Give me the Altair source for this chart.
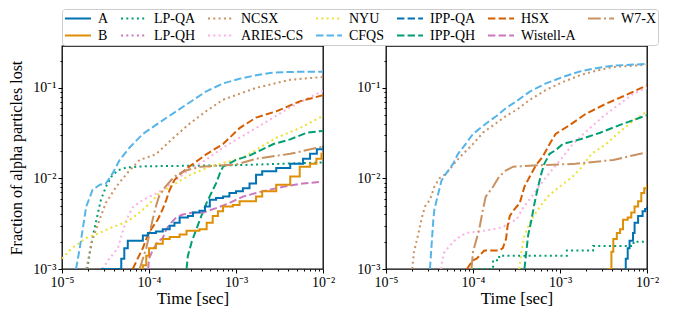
import altair as alt
import pandas as pd

# ---------------- legend order (matplotlib order, filled column by column) ----------------
ORDER = ["A", "B", "LP-QA", "LP-QH", "NCSX", "ARIES-CS", "NYU", "CFQS",
         "IPP-QA", "IPP-QH", "HSX", "Wistell-A", "W7-X"]
COLORS = ["#0173B2", "#DE8F05", "#029E73", "#CC78BC", "#CA9161", "#FBAFE4", "#ECE133", "#56B4E9",
          "#0173B2", "#029E73", "#D55E00", "#CC78BC", "#CA9161"]
SOLID = [1, 0]
DOT = [2, 3.3]
DASH = [7.4, 3.2]
DASHDOT = [12.8, 3.2, 2, 3.2]
DASHES = [SOLID, SOLID, DOT, DOT, DOT, DOT, DOT, DASH,
          DASH, DASH, DASH, DASH, DASHDOT]

# ---------------- left panel ----------------
L_CFQS_t = [1.45e-5, 1.6e-5, 1.73e-5, 1.9e-5, 2.25e-5, 2.7e-5, 3.2e-5, 3.8e-5, 4.6e-5, 6.0e-5, 8.5e-5,
            1.3e-4, 2.05e-4, 3.2e-4, 4.5e-4, 7.1e-4, 1.1e-3, 1.7e-3, 2.6e-3, 4.2e-3, 1e-2]
L_CFQS_f = [1.0e-3, 1.7e-3, 2.75e-3, 4.9e-3, 7.5e-3, 8.5e-3, 8.8e-3, 1.13e-2, 1.6e-2, 2.2e-2, 3.1e-2,
            4.1e-2, 5.5e-2, 7.3e-2, 9.1e-2, 0.112, 0.126, 0.138, 0.147, 0.15, 0.151]
L_NCSX_t = [1.9e-5, 2.2e-5, 2.7e-5, 3.2e-5, 4.2e-5, 5.5e-5, 7.8e-5, 1.2e-4, 1.9e-4, 2.9e-4, 4.5e-4,
            7.1e-4, 1.7e-3, 4.2e-3, 1e-2]
L_NCSX_f = [1.0e-3, 2.0e-3, 3.5e-3, 5.4e-3, 8.1e-3, 1.12e-2, 1.6e-2, 1.85e-2, 2.8e-2, 4.0e-2, 5.5e-2,
            7.4e-2, 0.10, 0.123, 0.132]
L_LPQA_t = [1.95e-5, 2.15e-5, 2.35e-5, 2.6e-5, 2.8e-5, 3.2e-5, 3.7e-5, 4.4e-5, 5.5e-5, 8.4e-5, 1e-3, 1e-2]
L_LPQA_f = [1.0e-3, 1.8e-3, 2.75e-3, 4.2e-3, 5.8e-3, 8.1e-3, 1.05e-2, 1.23e-2, 1.32e-2, 1.36e-2, 1.4e-2, 1.5e-2]
L_NYU_t = [1.0e-5, 1.3e-5, 1.9e-5, 2.7e-5, 3.8e-5, 5.5e-5, 7.8e-5, 1.0e-4, 1.3e-4, 1.9e-4, 3.0e-4,
           5e-4, 1.2e-3, 2.9e-3, 5.4e-3, 1e-2]
L_NYU_f = [1.3e-3, 1.7e-3, 2.2e-3, 2.5e-3, 2.9e-3, 3.3e-3, 4.2e-3, 5.2e-3, 6.8e-3, 8.5e-3, 1.1e-2,
           1.35e-2, 1.7e-2, 2.8e-2, 3.6e-2, 4.9e-2]
L_ARIES_t = [2.9e-5, 3.5e-5, 4.4e-5, 4.8e-5, 5.5e-5, 6.5e-5, 8.5e-5, 1.2e-4, 1.6e-4, 2.1e-4, 2.9e-4,
             4.5e-4, 7.1e-4, 1.7e-3, 4.2e-3, 1e-2]
L_ARIES_f = [1.0e-3, 1.3e-3, 1.7e-3, 2.3e-3, 3.5e-3, 4.8e-3, 5.8e-3, 6.8e-3, 8.0e-3, 9.8e-3, 1.25e-2,
             1.6e-2, 2.2e-2, 3.6e-2, 6.1e-2, 9.3e-2]
L_HSX_t = [6.5e-5, 7.4e-5, 8.5e-5, 9.3e-5, 1.06e-4, 1.26e-4, 1.44e-4, 1.58e-4, 1.73e-4, 1.96e-4, 2.3e-4,
           2.9e-4, 4.6e-4, 7.1e-4, 1.1e-3, 1.7e-3, 2.9e-3, 5.4e-3, 1e-2]
L_HSX_f = [1.0e-3, 1.3e-3, 1.7e-3, 2.15e-3, 2.75e-3, 3.5e-3, 4.6e-3, 5.8e-3, 7.5e-3, 9.6e-3, 1.13e-2,
           1.35e-2, 1.86e-2, 2.4e-2, 3.6e-2, 4.7e-2, 5.5e-2, 7.1e-2, 8.3e-2]
L_IPPQH_t = [2.7e-4, 2.8e-4, 3.1e-4, 3.5e-4, 4.0e-4, 4.6e-4, 5.2e-4, 5.9e-4, 6.5e-4, 7.1e-4, 1.0e-3,
             1.45e-3, 2.7e-3, 4.2e-3, 6.5e-3, 1e-2]
L_IPPQH_f = [1.0e-3, 1.4e-3, 2.0e-3, 2.75e-3, 3.85e-3, 5.4e-3, 6.9e-3, 8.8e-3, 1.13e-2, 1.35e-2, 1.6e-2,
             1.8e-2, 2.4e-2, 2.7e-2, 3.2e-2, 3.35e-2]
L_W7X_t = [7.8e-5, 8.5e-5, 9.3e-5, 1.0e-4, 1.1e-4, 1.2e-4, 1.3e-4, 1.5e-4, 1.8e-4, 2.1e-4, 2.7e-4,
           4e-4, 1.0e-3, 1.7e-3, 4.2e-3, 1e-2]
L_W7X_f = [1.0e-3, 1.3e-3, 1.7e-3, 2.3e-3, 3.5e-3, 4.9e-3, 6.3e-3, 7.8e-3, 9.6e-3, 1.1e-2, 1.23e-2,
           1.35e-2, 1.42e-2, 1.65e-2, 1.87e-2, 2.25e-2]
L_A_t = [2.8e-5, 4.6e-5, 4.8e-5, 5.2e-5, 5.7e-5, 8.5e-5, 9.7e-5, 1.2e-4, 1.44e-4, 1.73e-4, 1.96e-4, 2.25e-4,
         2.8e-4, 3.2e-4, 3.8e-4, 4.4e-4, 5.0e-4, 5.9e-4, 7.1e-4, 8.4e-4, 1.0e-3, 1.2e-3, 1.43e-3,
         1.7e-3, 2.0e-3, 2.9e-3, 4.2e-3, 5.9e-3, 7.1e-3, 8.5e-3, 1e-2]
L_A_f = [1.0e-3, 1.0e-3, 1.3e-3, 1.7e-3, 2.05e-3, 2.35e-3, 2.5e-3, 2.6e-3, 2.75e-3, 3.0e-3, 3.25e-3, 3.7e-3,
         3.85e-3, 4.2e-3, 4.4e-3, 4.9e-3, 5.8e-3, 6.1e-3, 6.3e-3, 6.9e-3, 7.2e-3, 7.8e-3, 8.8e-3,
         1.1e-2, 1.2e-2, 1.3e-2, 1.45e-2, 1.65e-2, 1.87e-2, 2.1e-2, 2.3e-2]
L_B_t = [8.0e-5, 8.5e-5, 9.3e-5, 1.0e-4, 1.2e-4, 1.44e-4, 1.73e-4, 2.25e-4, 2.7e-4, 3.8e-4, 4.6e-4, 5.4e-4,
         6.2e-4, 7.1e-4, 9.2e-4, 1.1e-3, 1.7e-3, 2.0e-3, 2.9e-3, 4.2e-3, 5.4e-3, 7.1e-3, 8.4e-3,
         9.6e-3, 1e-2]
L_B_f = [1.0e-3, 1.1e-3, 1.4e-3, 1.7e-3, 1.9e-3, 2.15e-3, 2.25e-3, 2.4e-3, 2.65e-3, 2.75e-3, 3.25e-3, 3.85e-3,
         4.35e-3, 4.9e-3, 5.1e-3, 5.6e-3, 6.3e-3, 7.2e-3, 8.5e-3, 1.05e-2, 1.35e-2, 1.45e-2, 1.65e-2,
         1.87e-2, 1.95e-2]
L_WIST_t = [9.8e-5, 1.0e-4, 1.1e-4, 1.26e-4, 1.44e-4, 1.58e-4, 1.8e-4, 2.05e-4, 2.45e-4, 3.2e-4, 4.2e-4,
            5.9e-4, 8.4e-4, 1.2e-3, 2.0e-3, 3.5e-3, 5.9e-3, 1e-2]
L_WIST_f = [1.0e-3, 1.3e-3, 1.6e-3, 2.0e-3, 2.2e-3, 2.75e-3, 3.25e-3, 3.7e-3, 4.0e-3, 4.2e-3, 4.2e-3,
            4.7e-3, 5.35e-3, 6.3e-3, 7.2e-3, 8.1e-3, 8.8e-3, 9.2e-3]

# ---------------- right panel ----------------
R_CFQS_t = [3.2e-5, 3.3e-5, 3.4e-5, 3.5e-5, 3.6e-5, 4.0e-5, 4.35e-5, 4.9e-5, 5.9e-5, 6.7e-5, 7.7e-5,
            1.0e-4, 1.3e-4, 1.86e-4, 2.4e-4, 3.15e-4, 4.5e-4, 6.9e-4, 1.08e-3, 1.7e-3, 2.6e-3, 4.1e-3, 1e-2]
R_CFQS_f = [1.0e-3, 1.55e-3, 2.35e-3, 3.5e-3, 4.55e-3, 6.9e-3, 9.5e-3, 1.13e-2, 1.45e-2, 1.86e-2, 2.2e-2,
            3.1e-2, 3.8e-2, 4.9e-2, 6.0e-2, 7.1e-2, 9.1e-2, 0.112, 0.132, 0.152, 0.165, 0.176, 0.184]
R_NCSX_t = [2.0e-5, 2.1e-5, 2.33e-5, 2.55e-5, 2.8e-5, 3.2e-5, 3.6e-5, 4.1e-5, 4.9e-5, 5.9e-5, 7.1e-5,
            1.0e-4, 1.3e-4, 1.86e-4, 2.4e-4, 3.15e-4, 4.5e-4, 6.9e-4, 1.08e-3, 1.7e-3, 2.6e-3, 4.1e-3, 1e-2]
R_NCSX_f = [1.0e-3, 1.55e-3, 2.35e-3, 3.5e-3, 4.9e-3, 5.8e-3, 8.1e-3, 1.0e-2, 1.13e-2, 1.4e-2, 1.73e-2,
            2.4e-2, 3.2e-2, 4.1e-2, 4.9e-2, 5.7e-2, 7.4e-2, 9.5e-2, 0.116, 0.138, 0.155, 0.17, 0.18]
R_HSX_t = [8.5e-5, 1.0e-4, 1.1e-4, 1.35e-4, 2.0e-4, 2.2e-4, 2.4e-4, 2.5e-4, 2.65e-4, 2.9e-4, 3.45e-4,
           3.9e-4, 4.5e-4, 5.3e-4, 6.3e-4, 7.6e-4, 8.9e-4, 1.3e-3, 2.0e-3, 3.4e-3, 5.7e-3, 1e-2]
R_HSX_f = [1.0e-3, 1.25e-3, 1.3e-3, 1.6e-3, 1.6e-3, 1.7e-3, 2.15e-3, 3.0e-3, 3.85e-3, 4.4e-3, 5.35e-3,
           8.1e-3, 1.05e-2, 1.4e-2, 1.73e-2, 2.4e-2, 3.1e-2, 3.9e-2, 5.2e-2, 6.7e-2, 8.3e-2, 0.107]
R_IPPQH_t = [3.9e-4, 4.1e-4, 4.3e-4, 4.7e-4, 5.1e-4, 5.6e-4, 6.1e-4, 6.6e-4, 7.6e-4, 8.9e-4, 1.08e-3,
             1.7e-3, 2.9e-3, 4.9e-3, 1e-2]
R_IPPQH_f = [1.0e-3, 1.55e-3, 2.35e-3, 3.5e-3, 5.35e-3, 8.1e-3, 1.13e-2, 1.45e-2, 1.87e-2, 2.05e-2, 2.4e-2,
             2.7e-2, 3.2e-2, 3.9e-2, 5.0e-2]
R_ARIES_t = [4.3e-5, 4.4e-5, 4.7e-5, 5.4e-5, 6.4e-5, 8.4e-5, 1.2e-4, 1.7e-4, 2.2e-4, 2.65e-4, 3.15e-4,
             3.75e-4, 4.9e-4, 6.3e-4, 8.3e-4, 1.08e-3, 1.4e-3, 2.0e-3, 3.1e-3, 4.9e-3, 6.9e-3, 1e-2]
R_ARIES_f = [1.0e-3, 1.2e-3, 1.55e-3, 1.8e-3, 2.15e-3, 2.5e-3, 2.6e-3, 2.75e-3, 2.9e-3, 3.25e-3, 3.5e-3,
             4.7e-3, 6.6e-3, 9.2e-3, 1.28e-2, 1.73e-2, 2.4e-2, 3.3e-2, 4.8e-2, 6.7e-2, 8.6e-2, 0.10]
R_NYU_t = [3.4e-4, 3.6e-4, 3.9e-4, 4.5e-4, 5.3e-4, 6.3e-4, 7.6e-4, 9.9e-4, 1.4e-3, 1.8e-3, 2.3e-3,
           3.4e-3, 4.9e-3, 6.9e-3, 1e-2]
R_NYU_f = [1.0e-3, 1.55e-3, 2.35e-3, 3.25e-3, 4.2e-3, 5.35e-3, 6.6e-3, 8.1e-3, 1.05e-2, 1.35e-2, 1.87e-2,
           2.4e-2, 3.3e-2, 4.3e-2, 5.5e-2]
R_W7X_t = [9.6e-5, 1.0e-4, 1.1e-4, 1.2e-4, 1.3e-4, 1.4e-4, 1.7e-4, 2.0e-4, 2.4e-4, 2.9e-4, 6e-4,
           1.5e-3, 4.1e-3, 1e-2]
R_W7X_f = [1.0e-3, 1.55e-3, 2.15e-3, 3.0e-3, 4.5e-3, 6.3e-3, 8.1e-3, 1.05e-2, 1.23e-2, 1.35e-2, 1.4e-2,
           1.45e-2, 1.6e-2, 1.95e-2]
R_LPQA_t = [1.0e-4, 1.7e-4, 2.0e-4, 1.2e-3, 2.4e-3, 7e-3, 1e-2]
R_LPQA_f = [1.0e-3, 1.25e-3, 1.4e-3, 1.6e-3, 1.8e-3, 2.0e-3, 2.0e-3]
R_A_t = [5.5e-3, 5.7e-3, 6.0e-3, 6.3e-3, 6.9e-3, 7.2e-3, 7.9e-3, 8.9e-3, 9.5e-3, 1e-2]
R_A_f = [1.0e-3, 1.3e-3, 1.7e-3, 2.05e-3, 2.5e-3, 3.25e-3, 3.85e-3, 4.35e-3, 4.6e-3, 4.9e-3]
R_B_t = [3.5e-3, 3.9e-3, 4.1e-3, 4.5e-3, 4.9e-3, 5.3e-3, 6.0e-3, 6.6e-3, 7.2e-3, 7.9e-3, 8.6e-3, 9.3e-3, 1e-2]
R_B_f = [1.0e-3, 1.55e-3, 2.15e-3, 2.5e-3, 2.75e-3, 3.5e-3, 3.7e-3, 4.2e-3, 4.9e-3, 5.6e-3, 6.9e-3, 7.8e-3, 8.8e-3]

SERIES = [
    ("left", "A", L_A_t, L_A_f, True), ("left", "B", L_B_t, L_B_f, True),
    ("left", "LP-QA", L_LPQA_t, L_LPQA_f, False), ("left", "NCSX", L_NCSX_t, L_NCSX_f, False),
    ("left", "ARIES-CS", L_ARIES_t, L_ARIES_f, False), ("left", "NYU", L_NYU_t, L_NYU_f, False),
    ("left", "CFQS", L_CFQS_t, L_CFQS_f, False), ("left", "IPP-QH", L_IPPQH_t, L_IPPQH_f, False),
    ("left", "HSX", L_HSX_t, L_HSX_f, False), ("left", "Wistell-A", L_WIST_t, L_WIST_f, False),
    ("left", "W7-X", L_W7X_t, L_W7X_f, False),
    ("right", "A", R_A_t, R_A_f, True), ("right", "B", R_B_t, R_B_f, True),
    ("right", "LP-QA", R_LPQA_t, R_LPQA_f, True), ("right", "NCSX", R_NCSX_t, R_NCSX_f, False),
    ("right", "ARIES-CS", R_ARIES_t, R_ARIES_f, False), ("right", "NYU", R_NYU_t, R_NYU_f, False),
    ("right", "CFQS", R_CFQS_t, R_CFQS_f, False), ("right", "IPP-QH", R_IPPQH_t, R_IPPQH_f, False),
    ("right", "HSX", R_HSX_t, R_HSX_f, False), ("right", "W7-X", R_W7X_t, R_W7X_f, False),
]

rows = []
for panel, name, ts, fs, step in SERIES:
    for t, f in zip(ts, fs):
        rows.append({"panel": panel, "name": name, "t": t, "f": f, "step": step})
df = pd.DataFrame(rows)

FONT = "Liberation Serif"
MAJOR = "abs(log(datum.value)/LN10 - round(log(datum.value)/LN10)) < 0.01"
LABEL = ("(" + MAJOR + ") ? '10\u207b' + ['\u2070','\u00b9','\u00b2','\u00b3','\u2074','\u2075']"
         "[-round(log(datum.value)/LN10)] : ''")
X_VALUES = [k * 10.0 ** d for d in (-5, -4, -3) for k in range(1, 10)] + [1e-2]
Y_VALUES = [k * 10.0 ** d for d in (-3, -2) for k in range(1, 10)] + [0.1, 0.2]
TICK = {"condition": {"test": MAJOR, "value": 4}, "value": 2}

legend = alt.Legend(
    title=None, orient="none", legendX=0, legendY=-37, columns=7,
    symbolType="stroke", symbolSize=676, symbolStrokeWidth=2, clipHeight=15,
    labelFont=FONT, labelFontSize=14, labelColor="black", labelOffset=6,
    columnPadding=11, rowPadding=2, padding=2,
    strokeColor="#cccccc", fillColor="white", cornerRadius=3, labelLimit=0,
)


def panel(pname, ytitle):
    base = alt.Chart(df[df.panel == pname])
    x = alt.X("t:Q", scale=alt.Scale(type="log", domain=[1e-5, 1e-2], nice=False),
              axis=alt.Axis(title="Time [sec]", values=X_VALUES, labelExpr=LABEL, tickSize=TICK))
    if ytitle:
        yaxis = alt.Axis(title=ytitle, values=Y_VALUES, labelExpr=LABEL, tickSize=TICK)
    else:
        yaxis = alt.Axis(title=None, values=Y_VALUES, labelExpr=LABEL, tickSize=TICK)
    y = alt.Y("f:Q", scale=alt.Scale(type="log", domain=[1e-3, 0.29], nice=False), axis=yaxis)
    color = alt.Color("name:N", scale=alt.Scale(domain=ORDER, range=COLORS), legend=legend)
    dash = alt.StrokeDash("name:N", scale=alt.Scale(domain=ORDER, range=DASHES), legend=legend)
    smooth = base.transform_filter("!datum.step").mark_line(strokeWidth=2, clip=True).encode(
        x=x, y=y, color=color, strokeDash=dash)
    steps = base.transform_filter("datum.step").mark_line(strokeWidth=2, clip=True,
                                                         interpolate="step-after").encode(
        x=x, y=y, color=color, strokeDash=dash)
    return alt.layer(smooth, steps).properties(width=261, height=223)


left = panel("left", "Fraction of alpha particles lost")
right = panel("right", None)

chart = alt.hconcat(left, right, spacing=20).resolve_scale(
    color="shared", strokeDash="shared"
).properties(padding=0).configure_view(stroke="black", strokeWidth=1.3).configure_axis(
    domain=False, grid=False, tickColor="black", tickWidth=1,
    labelFont=FONT, labelFontSize=14, labelColor="black", labelPadding=2,
    labelFlush=False, labelOverlap=False,
    titleFont=FONT, titleFontSize=16, titleFontWeight="normal", titleColor="black",
).configure_axisY(titlePadding=8).configure_axisX(titlePadding=1, titleFontSize=17)

chart.save("out.html", embed_options={"renderer": "svg", "actions": False})
